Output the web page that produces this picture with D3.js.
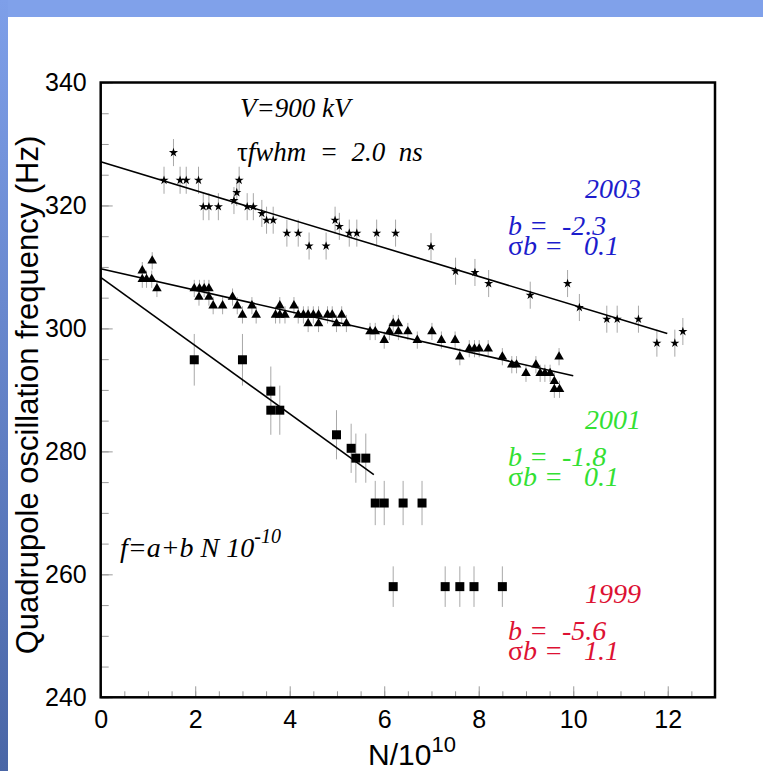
<!DOCTYPE html>
<html>
<head>
<meta charset="utf-8">
<script src="https://cdn.jsdelivr.net/npm/d3@7"></script>
<style>
body { margin: 0; background: #fff; }
svg { display: block; }
text { white-space: pre; }
</style>
</head>
<body>
<div id="chart"></div>
<script>
// 2003 run (stars)
var n2003 = [1.34, 1.54, 1.68, 1.81, 2.07, 2.17, 2.29, 2.49, 2.82, 2.88, 2.93, 3.10, 3.23, 3.41, 3.51, 3.65,
             3.94, 4.18, 4.41, 4.77, 4.96, 5.05, 5.26, 5.42, 5.84, 6.24, 6.99, 7.51, 7.92, 8.21, 9.09, 9.88,
             10.13, 10.71, 10.93, 11.38, 11.77, 12.15, 12.32];
var f2003 = [324.1, 328.6, 324.1, 324.1, 324.1, 319.8, 319.8, 319.8, 320.8, 322.1, 324.1, 319.8, 319.8, 318.7, 317.6, 317.6,
             315.5, 315.5, 313.4, 313.4, 317.6, 316.6, 315.5, 315.5, 315.5, 315.5, 313.3, 309.3, 309.1, 307.3, 305.4, 307.3,
             303.4, 301.5, 301.5, 301.5, 297.6, 297.6, 299.5];
var e2003 = 2.2;

// 2001 run (triangles)
var n2001 = [0.88, 1.09, 0.88, 0.97, 1.08, 1.19, 1.98, 2.09, 2.19, 2.29, 2.08, 2.29, 2.38, 2.58, 2.79, 2.89,
             3.00, 3.20, 3.29, 3.70, 3.79, 3.90, 3.79, 4.09, 4.18, 4.29, 4.39, 4.50, 4.61, 4.39, 4.61, 4.80,
             4.90, 5.10, 4.99, 5.20, 5.70, 5.81, 6.00, 6.11, 6.19, 6.30, 6.30, 6.50, 6.70, 7.01, 7.21, 7.50,
             7.60, 7.80, 7.91, 8.01, 8.20, 8.50, 8.70, 8.80, 9.00, 9.21, 9.30, 9.40, 9.51, 9.70, 9.60, 9.60, 9.71];
var f2001 = [309.4, 311.0, 308.0, 308.0, 308.0, 306.5, 306.5, 306.5, 306.5, 306.5, 305.1, 305.1, 303.7, 303.7, 305.1, 303.7,
             302.2, 303.7, 302.2, 302.2, 302.2, 302.2, 303.7, 303.7, 302.2, 302.2, 302.2, 302.2, 302.2, 300.8, 300.8, 302.2,
             302.2, 302.2, 300.8, 300.8, 299.5, 299.5, 298.1, 299.5, 300.8, 300.8, 299.5, 299.5, 298.1, 299.5, 298.1, 298.1,
             295.4, 296.7, 296.7, 296.7, 296.7, 295.4, 294.1, 294.1, 292.7, 294.1, 292.7, 292.7, 292.7, 295.4, 291.4, 290.1, 290.1];
var e2001 = 1.4;

// 1999 run (squares)
var n1999 = [1.98, 3.00, 3.60, 3.60, 3.79, 4.99, 5.30, 5.40, 5.61, 5.81, 6.00, 6.40, 6.80, 6.19, 7.29, 7.60, 7.90, 8.50];
var f1999 = [294.9, 294.9, 289.8, 286.7, 286.7, 282.7, 280.5, 278.9, 278.9, 271.6, 271.6, 271.6, 271.6, 258.0, 258.0, 258.0, 258.0, 258.0];
var e1999 = [4.2, 4.2, 4.0, 4.0, 4.0, 4.0, 4.0, 4.0, 4.0, 3.6, 3.6, 3.6, 3.6, 3.3, 3.3, 3.3, 3.3, 3.3];

// linear fits f = a + b N
var fitNames = ["2003", "2001", "1999"];
var fitA = [327.1, 309.7, 308.3];
var fitB = [-2.33, -1.74, -5.55];
var fitEnd = [11.99, 10.0, 5.78];
var fitLabelB = ["-2.3", "-1.8", "-5.6"];
var fitLabelSig = ["0.1", "0.1", "1.1"];

var xTicks = [0, 2, 4, 6, 8, 10, 12];
var yTicks = [240, 260, 280, 300, 320, 340];

function drawChart()
{
    var W = 763, H = 771;
    var pL = 100.7, pR = 715, pT = 82.5, pB = 697.3;

    var svg = d3.select("#chart").append("svg")
        .attr("width", W)
        .attr("height", H);

    // slide background
    var grad = svg.append("defs").append("linearGradient")
        .attr("id", "sideGrad").attr("x1", 0).attr("y1", 0).attr("x2", 0).attr("y2", 1);
    grad.append("stop").attr("offset", "0%").attr("stop-color", "#7e9fe9");
    grad.append("stop").attr("offset", "100%").attr("stop-color", "#4a66a6");

    svg.append("rect").attr("x", 0).attr("y", 0).attr("width", W).attr("height", H).attr("fill", "#fff");
    svg.append("rect").attr("x", 0).attr("y", 0).attr("width", W).attr("height", 17).attr("fill", "#80a1ea");
    svg.append("rect").attr("x", 0).attr("y", 0).attr("width", 8).attr("height", H).attr("fill", "url(#sideGrad)");

    var x = d3.scaleLinear().domain([0, 13]).range([pL, pR]);
    var y = d3.scaleLinear().domain([240, 340]).range([pB, pT]);

    // axes: ticks point inwards
    var xMinor = d3.axisBottom(x).tickValues(d3.range(0, 13.01, 0.5)).tickSize(-6).tickFormat("");
    var xMajor = d3.axisBottom(x).tickValues(xTicks).tickSize(-11).tickPadding(13).tickFormat(d3.format("d"));
    var yMinor = d3.axisLeft(y).tickValues(d3.range(240, 340.1, 5)).tickSize(-8).tickFormat("");
    var yMajor = d3.axisLeft(y).tickValues(yTicks).tickSize(-12).tickPadding(14).tickFormat(d3.format("d"));

    [xMinor, xMajor].forEach(function(a){
        svg.append("g").attr("class", "axis").attr("transform", "translate(0," + pB + ")").call(a);
    });
    [yMinor, yMajor].forEach(function(a){
        svg.append("g").attr("class", "axis").attr("transform", "translate(" + pL + ",0)").call(a);
    });
    svg.selectAll(".axis .domain").remove();
    svg.selectAll(".axis line").attr("stroke", "#9a9a9a").attr("stroke-width", 1);
    svg.selectAll(".axis text")
        .attr("font-family", "Liberation Sans, Arial, sans-serif")
        .attr("font-size", 25)
        .attr("fill", "#000");

    // frame
    svg.append("rect")
        .attr("x", pL).attr("y", pT)
        .attr("width", pR - pL).attr("height", pB - pT)
        .attr("fill", "none").attr("stroke", "#000").attr("stroke-width", 2.5);

    // axis titles
    svg.append("text")
        .attr("transform", "translate(38,395) rotate(-90)")
        .attr("text-anchor", "middle")
        .attr("font-family", "Liberation Sans, Arial, sans-serif")
        .attr("font-size", 31)
        .text("Quadrupole oscillation frequency (Hz)");

    var xt = svg.append("text")
        .attr("x", 412).attr("y", 765)
        .attr("text-anchor", "middle")
        .attr("font-family", "Liberation Sans, Arial, sans-serif")
        .attr("font-size", 30);
    xt.append("tspan").text("N/10");
    xt.append("tspan").attr("dy", -13).attr("font-size", 22).text("10");

    // error bars
    function errorBars(xs, ys, err) {
        svg.append("g").selectAll("line").data(xs).enter().append("line")
            .attr("x1", function(d){ return x(d); })
            .attr("x2", function(d){ return x(d); })
            .attr("y1", function(d, i){ return y(ys[i] + (Array.isArray(err) ? err[i] : err)); })
            .attr("y2", function(d, i){ return y(ys[i] - (Array.isArray(err) ? err[i] : err)); })
            .attr("stroke", "#a8a8a8")
            .attr("stroke-width", 1);
    }
    errorBars(n2003, f2003, e2003);
    errorBars(n2001, f2001, e2001);
    errorBars(n1999, f1999, e1999);

    // fit lines
    var fitG = svg.append("g");
    fitNames.forEach(function(name, i){
        fitG.append("line")
            .attr("x1", x(0)).attr("y1", y(fitA[i]))
            .attr("x2", x(fitEnd[i])).attr("y2", y(fitA[i] + fitB[i] * fitEnd[i]))
            .attr("stroke", "#000")
            .attr("stroke-width", 1.6);
    });

    // markers
    function markers(xs, ys, type, size) {
        var sym = d3.symbol().type(type).size(size);
        svg.append("g").selectAll("path").data(xs).enter().append("path")
            .attr("transform", function(d, i){ return "translate(" + x(d) + "," + y(ys[i]) + ")"; })
            .attr("d", sym)
            .attr("fill", "#000");
    }
    markers(n2003, f2003, d3.symbolStar, 26);
    markers(n2001, f2001, d3.symbolTriangle, 40);
    markers(n1999, f1999, d3.symbolSquare, 81);

    // annotations
    var serif = "Liberation Serif, Times New Roman, serif";
    function note(tx, ty, str, color, size) {
        return svg.append("text")
            .attr("x", tx).attr("y", ty)
            .attr("font-family", serif)
            .attr("font-style", "italic")
            .attr("font-size", size || 27)
            .attr("fill", color || "#000")
            .text(str);
    }
    note(240, 117, "V=900 kV");
    var tau = note(237, 161, "");
    tau.append("tspan").attr("font-style", "normal").text("\u03c4");
    tau.append("tspan").text("fwhm  =  2.0  ns");

    var f = note(120, 557, "f=a+b N 10", "#000", 28);
    f.append("tspan").attr("dy", -14).attr("font-size", 20).text("-10");

    var fitColors = ["#1c1ccc", "#33e033", "#dd1133"];
    var fitYear = [198, 429, 603];
    fitNames.forEach(function(name, i){
        note(585, fitYear[i], name, fitColors[i], 28);
        note(508, fitYear[i] + 37, "b =  " + fitLabelB[i], fitColors[i], 28);
        var s = note(508, fitYear[i] + 57, "", fitColors[i], 28);
        s.append("tspan").attr("font-style", "normal").text("\u03c3");
        s.append("tspan").text("b =   " + fitLabelSig[i]);
    });
}

drawChart();
</script>
</body>
</html>
